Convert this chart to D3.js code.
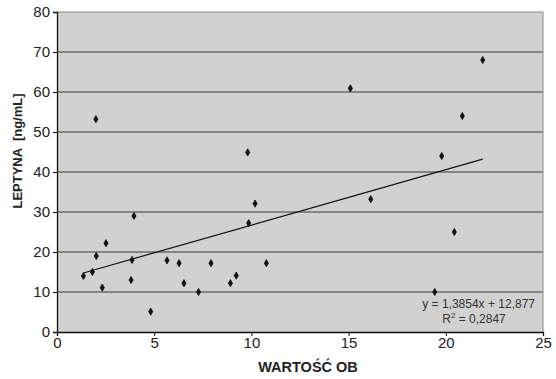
<!DOCTYPE html>
<meta charset="utf-8">
<style>
  body { margin: 0; background: #fff; }
  svg text { font-family: "Liberation Sans", Arial, sans-serif; }
</style>
<body>
<script src="https://d3js.org/d3.v7.min.js"></script>
<div id="chart"></div>
<script>
// OB values (x) and leptyna values (y)
var obValues = [1.36, 1.82, 2.02, 2.0, 2.33, 2.52, 3.81, 3.86, 3.96, 4.82,
                5.66, 6.28, 6.53, 7.28, 7.92, 8.92, 9.22, 9.86, 9.81, 10.19,
                10.77, 15.09, 16.14, 19.43, 19.79, 20.44, 20.85, 21.9];
var leptynaValues = [14, 15, 19, 53.2, 11.1, 22.2, 13, 18, 29, 5.1,
                     17.9, 17.2, 12.2, 10, 17.2, 12.2, 14.1, 27.2, 44.9, 32.1,
                     17.2, 60.9, 33.2, 10, 44, 25, 54, 68];
var yTicks = [0, 10, 20, 30, 40, 50, 60, 70, 80];
var xTicks = [0, 5, 10, 15, 20, 25];
var trendSlope = 1.3854, trendIntercept = 12.877;
var trendLabel = "y = 1,3854x + 12,877";
var r2Value = "0,2847";

var width = 556, height = 379;
var margin = {top: 12, right: 13, bottom: 47, left: 57};
var w = width - margin.left - margin.right,
    h = height - margin.top - margin.bottom;

var svg = d3.select("#chart").append("svg")
    .attr("width", width)
    .attr("height", height);

var g = svg.append("g")
    .attr("transform", "translate(" + margin.left + "," + margin.top + ")");

var x = d3.scaleLinear().domain([0, 25]).range([0, w]);
var y = d3.scaleLinear().domain([0, 80]).range([h, 0]);

// plot background
g.append("rect")
    .attr("width", w)
    .attr("height", h)
    .attr("fill", "#d1d1d1");

// gridlines
g.selectAll("line.grid")
    .data(yTicks.filter(function(d) { return d > 0; }))
  .enter().append("line")
    .attr("class", "grid")
    .attr("x1", 0).attr("x2", w)
    .attr("y1", function(d) { return y(d); })
    .attr("y2", function(d) { return y(d); })
    .attr("stroke", function(d) { return d == 80 ? "#8a8a8a" : "#3a3a3a"; })
    .attr("stroke-width", 1);

// right border
g.append("line")
    .attr("x1", w).attr("x2", w)
    .attr("y1", 0).attr("y2", h)
    .attr("stroke", "#8a8a8a");

// trend line
var xmin = d3.min(obValues), xmax = d3.max(obValues);
g.append("line")
    .attr("x1", x(xmin)).attr("y1", y(trendSlope * xmin + trendIntercept))
    .attr("x2", x(xmax)).attr("y2", y(trendSlope * xmax + trendIntercept))
    .attr("stroke", "#111")
    .attr("stroke-width", 1.2);

// points
var diamond = d3.symbol().type(d3.symbolDiamond).size(15);
g.selectAll("path.pt")
    .data(obValues)
  .enter().append("path")
    .attr("class", "pt")
    .attr("d", diamond)
    .attr("transform", function(d, i) {
      return "translate(" + x(d) + "," + y(leptynaValues[i]) + ")";
    })
    .attr("fill", "#111")
    .attr("stroke", "#111")
    .attr("stroke-width", 0.8);

// axes
var yAxis = g.append("g")
    .call(d3.axisLeft(y).tickValues(yTicks).tickSize(4).tickPadding(3));
var xAxis = g.append("g")
    .attr("transform", "translate(0," + h + ")")
    .call(d3.axisBottom(x).tickValues(xTicks).tickSize(4).tickPadding(1));

[yAxis, xAxis].forEach(function(a) {
  a.select(".domain").attr("stroke", "#111").attr("stroke-width", 1.3);
  a.selectAll(".tick line").attr("stroke", "#111");
  a.selectAll(".tick text")
      .attr("fill", "#222")
      .style("font-size", "15px")
      .style("font-family", "Liberation Sans, Arial, sans-serif");
});

// equation
g.append("text")
    .attr("x", 535 - margin.left)
    .attr("y", 308 - margin.top)
    .attr("text-anchor", "end")
    .attr("fill", "#333")
    .style("font-size", "12px")
    .text(trendLabel);

var r2 = g.append("text")
    .attr("x", 474 - margin.left)
    .attr("y", 323 - margin.top)
    .attr("text-anchor", "middle")
    .attr("fill", "#333")
    .style("font-size", "12px");
r2.append("tspan").text("R");
r2.append("tspan").attr("dy", -5).style("font-size", "8px").text("2");
r2.append("tspan").attr("dy", 5).text(" = " + r2Value);

// axis titles
svg.append("text")
    .attr("x", 308)
    .attr("y", 372)
    .attr("text-anchor", "middle")
    .attr("fill", "#222")
    .style("font-size", "14.5px")
    .style("font-weight", "bold")
    .text("WARTOŚĆ OB");

svg.append("text")
    .attr("transform", "translate(22,151)rotate(-90)")
    .attr("text-anchor", "middle")
    .attr("fill", "#222")
    .style("font-size", "13px")
    .style("font-weight", "bold")
    .style("white-space", "pre")
    .text("LEPTYNA  [ng/mL]");
</script>
</body>
</html>
